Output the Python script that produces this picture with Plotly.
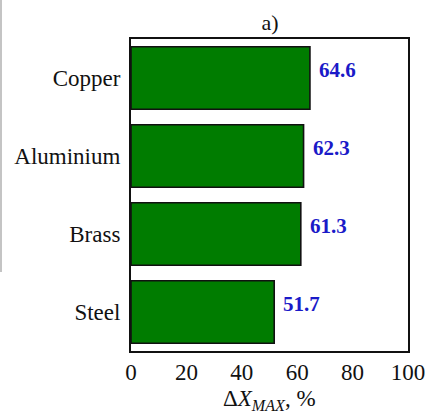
import plotly.graph_objects as go

materials = ["Copper", "Aluminium", "Brass", "Steel"]
values = [64.6, 62.3, 61.3, 51.7]
x_ticks = [0, 20, 40, 60, 80, 100]

FONT = "Liberation Serif, Times New Roman, serif"

fig = go.Figure()
fig.add_trace(go.Bar(
    y=materials, x=values, orientation="h",
    marker=dict(color="#007c00", line=dict(color="#111111", width=1.6)),
    width=0.8, hoverinfo="x+y",
))

for m, v in zip(materials, values):
    fig.add_annotation(
        x=v, y=m, text=f"<b>{v:.1f}</b>", showarrow=False,
        xanchor="left", yanchor="middle", xshift=7, yshift=8,
        font=dict(family=FONT, size=21, color="#1a1ac8"),
    )

# x-axis title placed as an annotation (keeps margins fixed)
fig.add_annotation(
    xref="paper", yref="paper", x=0.5, y=0, xanchor="center", yanchor="top",
    yshift=-33, showarrow=False,
    text="Δ<i>X</i><sub><i>MAX</i></sub>, %",
    font=dict(family=FONT, size=23, color="#111111"),
)

# faint gray edge line on the left of the picture
fig.add_shape(type="line", xref="paper", yref="paper",
              x0=(1 - 131) / 277, x1=(1 - 131) / 277,
              y0=(351 - 0) / 312, y1=(351 - 272) / 312,
              line=dict(color="#c4c4c4", width=2))

fig.update_layout(
    width=429, height=411,
    margin=dict(l=131, r=21, t=39, b=60, autoexpand=False),
    paper_bgcolor="white", plot_bgcolor="white",
    showlegend=False,
    font=dict(family=FONT, size=23, color="#111111"),
    title=dict(text="a)", x=270 / 429, xanchor="center",
               y=1 - 22 / 411, yanchor="middle",
               font=dict(family=FONT, size=22, color="#111111")),
)
fig.update_xaxes(
    range=[0, 100], tickvals=x_ticks, ticktext=[str(t) for t in x_ticks],
    showgrid=False, zeroline=False, ticks="", ticklabelstandoff=-1,
    showline=True, linecolor="#111111", linewidth=2, mirror=True,
    automargin=False,
    tickfont=dict(family=FONT, size=23, color="#111111"),
)
fig.update_yaxes(
    categoryorder="array", categoryarray=materials[::-1],
    range=[-0.5, 3.5],
    showgrid=False, zeroline=False, ticks="", ticklabelstandoff=4,
    showline=True, linecolor="#111111", linewidth=2, mirror=True,
    automargin=False,
    tickfont=dict(family=FONT, size=23, color="#111111"),
)

fig.write_html(
    "out.html",
    config={"displayModeBar": False},
    post_script="document.body.style.margin='0';document.body.style.padding='0';",
)
